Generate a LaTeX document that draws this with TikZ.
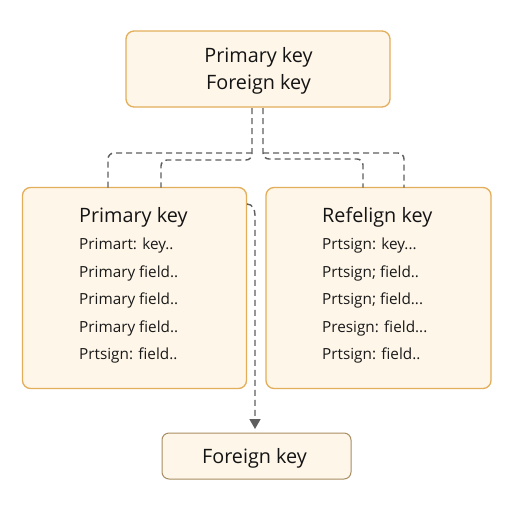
\documentclass[tikz,border=0pt]{standalone}
\usepackage{fontspec}
\setmainfont{Open Sans}
\usetikzlibrary{arrows.meta}
\definecolor{boxfill}{HTML}{FEF6E9}
\definecolor{boxline}{HTML}{E3AE5A}
\definecolor{boxlineb}{HTML}{A88E62}
\definecolor{conncol}{HTML}{5E5E5E}
\tikzset{
  card/.style={draw=boxline, line width=1.3pt, fill=boxfill, rounded corners=8pt, inner sep=0pt},
  cardb/.style={draw=boxlineb, line width=1pt, fill=boxfill, rounded corners=7pt, inner sep=0pt},
  bigtxt/.style={font=\fontsize{19.8}{24}\selectfont, inner sep=0pt, text=black!92},
  smalltxt/.style={font=\fontsize{15.3}{18}\selectfont, inner sep=0pt, text=black!90, anchor=base west},
  conn/.style={draw=conncol, line width=1.4pt, dash pattern=on 6pt off 4pt, rounded corners=6pt},
}
\begin{document}
\begin{tikzpicture}[x=1pt,y=-1pt]
\useasboundingbox (0,0) rectangle (512,512);
\fill[white] (0,0) rectangle (512,512);
% boxes
\node[card, minimum width=264pt, minimum height=76pt] (T) at (258,69) {};
\node[card, minimum width=224pt, minimum height=201pt] (L) at (134.5,288) {};
\node[card, minimum width=225pt, minimum height=201pt] (R) at (378.5,288) {};
\node[cardb, minimum width=189pt, minimum height=46pt] (B) at (256.5,456) {};
% top texts
\node[bigtxt, anchor=base] (t1txt) at (258.5,62) {Primary key};
\node[bigtxt, anchor=base] (t2txt) at (258.5,89) {Foreign key};
% left texts
\node[bigtxt, anchor=base west] (l0) at (79,222) {Primary key};
\node[smalltxt] (l1) at (79,249) {Primart: key..};
\node[smalltxt] (l2) at (79,277) {Primary field..};
\node[smalltxt] (l3) at (79,304.5) {Primary field..};
\node[smalltxt] (l4) at (79,332) {Primary field..};
\node[smalltxt] (l5) at (79,359.5) {Prtsign: field..};
% right texts
\node[bigtxt, anchor=base west] (r0) at (322,222) {Refelign key};
\node[smalltxt] (r1) at (322,249) {Prtsign: key...};
\node[smalltxt] (r2) at (322,277) {Prtsign; field..};
\node[smalltxt] (r3) at (322,304.5) {Prtsign; field...};
\node[smalltxt] (r4) at (322,332) {Presign: field...};
\node[smalltxt] (r5) at (322,359.5) {Prtsign: field..};
% bottom text
\node[bigtxt, anchor=base] (btxt) at (254.5,463) {Foreign key};
% connector coordinates
\coordinate (ta) at (252,108);
\coordinate (tb) at (263,108);
\coordinate (ja) at (252,153);
\coordinate (jb) at (263,153);
\coordinate (La) at (108,187.5);
\coordinate (Lb) at (161,187.5);
\coordinate (Ra) at (363,187.5);
\coordinate (Rb) at (404,187.5);
\coordinate (a0) at (247,204);
\coordinate (a1) at (255,215);
\coordinate (a2) at (255,429);
% connectors
\draw[conn] (ta) -- (252,160) -| (Lb);
\draw[conn] (ja) -| (La);
\draw[conn] (tb) -- (263,159) -| (Ra);
\draw[conn] (jb) -| (Rb);
\draw[conn, rounded corners=0pt, -{Triangle[width=11pt,length=10pt,fill=conncol]}]
  (a0) to[out=0,in=90] (a1) -- (a2);
\end{tikzpicture}
\end{document}
